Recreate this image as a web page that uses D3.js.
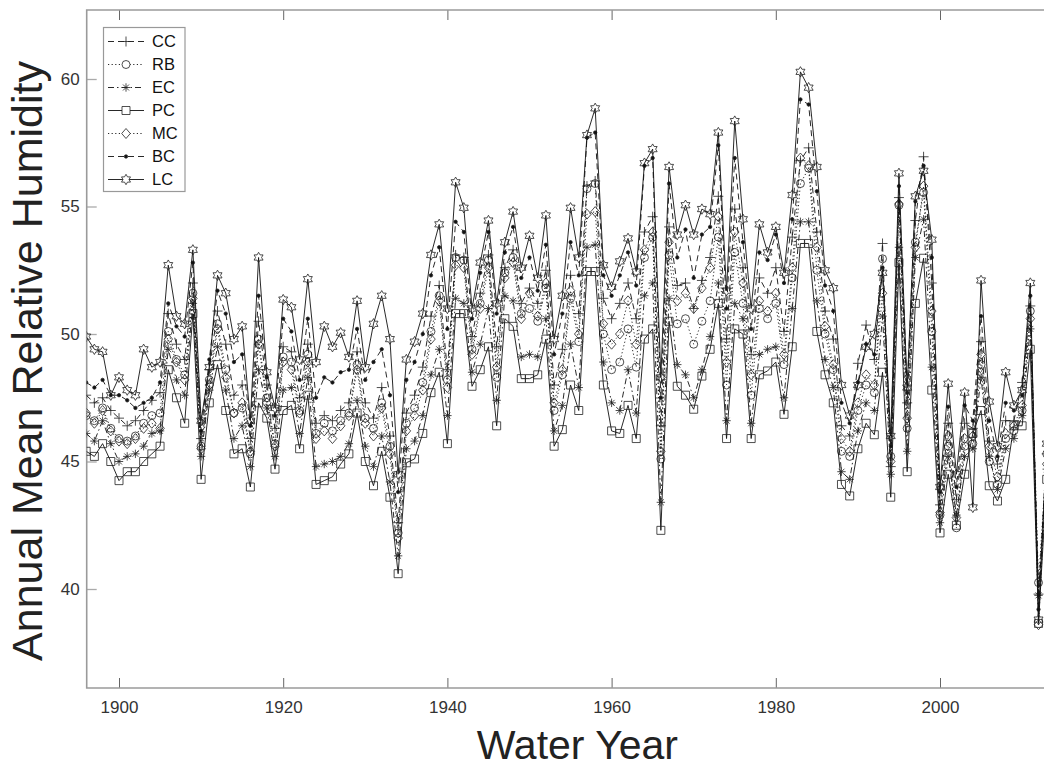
<!DOCTYPE html>
<html>
<head>
<meta charset="utf-8">
<script src="https://cdn.jsdelivr.net/npm/d3@7"></script>
<style>
  html, body { margin: 0; padding: 0; background: #fff; }
  svg { display: block; font-family: "Liberation Sans", Arial, Helvetica, sans-serif; }
</style>
</head>
<body>
<svg id="chart" width="1044" height="767"></svg>
<script>
// ---------------- DATA ----------------
const firstYear = 1896;
const lastYear = 2013;
const years = d3.range(firstYear, lastYear + 1);

const seriesNames = ["CC", "RB", "EC", "PC", "MC", "BC", "LC"];

const cc = [47.6,47.3,47.5,47.0,
  46.7,46.4,46.6,47.0,47.4,47.7,50.8,49.6,49.0,52.0,
  45.9,48.6,50.9,49.6,47.6,48.0,45.9,50.5,48.0,46.3,
  49.5,49.3,47.5,49.6,46.5,46.8,46.6,47.0,47.3,49.3,
  47.3,46.7,47.9,46.0,42.6,46.9,47.6,48.7,50.7,51.9,
  48.6,53.1,53.0,49.9,51.6,53.1,49.5,52.6,53.3,51.2,
  51.8,51.2,52.5,48.0,49.4,52.3,50.8,55.8,56.0,51.4,
  50.6,51.2,52.0,50.6,54.0,54.6,46.4,54.2,51.9,52.0,
  51.0,52.1,53.0,55.4,49.8,54.9,52.6,49.2,52.2,51.6,
  52.6,50.1,53.8,56.8,57.3,54.0,50.9,49.8,46.4,46.0,
  48.85,50.35,49.0,53.55,44.8,55.35,47.3,54.45,56.95,52.0,
  43.3,46.5,43.5,46.5,46.3,49.7,45.8,44.9,46.6,46.6,
  48.1,51.1,39.8,45.3];

const rb = [46.8,46.6,47.1,46.3,
  45.9,45.8,46.0,46.5,46.8,46.9,50.1,49.0,48.4,51.6,
  45.6,48.2,50.4,48.6,46.9,47.1,45.3,49.8,47.5,45.7,
  49.1,48.9,47.0,49.2,46.1,46.5,46.2,46.6,46.9,48.8,
  46.7,46.3,47.3,45.6,42.2,46.5,47.1,48.1,50.1,51.5,
  48.2,53.0,52.9,49.4,51.2,52.9,48.3,52.4,53.0,50.8,
  51.0,50.5,51.8,47.0,48.4,51.4,49.7,55.7,55.9,50.0,
  48.6,48.9,50.2,48.7,53.0,53.8,45.1,53.1,50.4,50.6,
  49.6,50.5,51.3,53.8,48.0,53.2,51.2,47.6,51.0,50.6,
  51.2,48.8,52.2,55.9,56.5,52.5,50.0,48.6,45.4,45.2,
  47.0,48.0,47.7,52.95,45.2,55.05,46.3,53.6,55.55,50.1,
  42.9,45.6,42.4,45.6,45.7,48.8,45.0,44.1,45.9,46.2,
  47.0,50.9,40.25,45.3];

const ec = [46.1,45.8,46.6,45.7,
  45.0,45.2,45.3,45.6,46.1,46.2,49.4,48.2,47.6,51.2,
  45.2,47.8,49.5,47.8,45.9,46.4,44.8,48.6,47.1,45.2,
  47.8,47.9,46.1,48.3,44.8,44.9,45.0,45.2,45.7,47.4,
  45.6,44.8,46.0,44.2,41.3,45.5,45.8,46.8,48.4,49.4,
  46.8,51.4,51.2,48.5,49.6,51.0,47.4,51.5,51.3,49.1,
  49.2,49.1,50.6,46.2,47.2,49.6,47.9,53.4,53.5,48.9,
  47.3,47.0,48.6,46.9,51.5,52.0,43.4,51.4,48.8,48.4,
  47.5,48.6,49.9,52.0,46.6,51.2,50.6,46.5,49.2,49.4,
  49.5,47.5,51.0,54.4,54.4,51.3,49.0,47.9,44.6,44.3,
  46.2,47.3,47.0,50.7,44.5,53.4,45.4,53.0,54.5,48.7,
  42.6,45.2,42.9,45.2,45.5,48.3,45.2,43.9,45.5,45.9,
  46.8,50.2,39.75,44.7];

const pc = [45.4,45.2,45.7,45.0,
  44.25,44.6,44.6,45.0,45.3,45.6,48.6,47.5,46.5,50.8,
  44.3,47.3,48.8,47.0,45.3,45.5,44.0,47.3,46.7,44.7,
  47.0,47.2,45.5,47.6,44.1,44.25,44.4,44.9,45.3,46.9,
  45.0,44.05,45.4,43.6,40.6,44.95,45.1,46.1,47.7,48.5,
  45.7,50.8,50.8,47.95,48.6,49.5,46.4,50.6,50.3,48.25,
  48.25,48.4,49.8,45.6,46.25,48.0,47.0,52.45,52.45,48.0,
  46.2,46.1,47.2,45.9,49.8,50.2,42.3,50.5,47.95,47.6,
  47.05,48.35,49.4,51.2,45.9,50.2,50.0,45.9,48.4,48.55,
  48.9,46.85,49.5,53.55,53.55,50.1,48.4,47.3,44.1,43.65,
  45.5,46.5,46.05,48.5,43.6,52.8,44.6,51.2,52.97,47.8,
  42.2,44.5,42.5,44.5,46.1,47.0,44.05,43.45,44.3,46.4,
  46.4,49.4,38.65,44.3];

const mc = [46.9,46.5,47.0,46.2,
  45.8,45.7,45.9,46.3,46.5,46.3,49.8,48.9,48.2,51.4,
  45.5,48.0,50.2,48.3,46.9,47.3,45.4,49.6,47.3,45.6,
  48.9,48.6,46.9,48.9,45.9,46.2,45.9,46.4,46.8,48.6,
  46.5,46.0,47.1,45.3,42.0,46.2,46.8,47.8,49.8,51.3,
  47.9,52.7,52.6,49.2,51.0,52.6,48.7,52.2,52.8,50.6,
  51.6,50.7,52.0,47.3,48.6,51.7,50.0,54.7,54.8,50.4,
  49.6,50.0,51.3,49.6,53.3,54.0,45.4,53.6,51.3,51.6,
  51.0,51.8,52.6,54.6,48.9,54.0,52.0,48.4,51.3,50.9,
  51.6,49.2,52.6,56.9,56.6,53.4,50.3,48.8,45.9,45.4,
  47.3,48.4,48.0,51.6,45.0,55.1,46.7,53.4,55.8,50.9,
  43.0,46.0,42.8,45.9,46.0,49.2,45.6,44.4,46.1,46.4,
  47.2,50.6,38.6,44.9];

const bc = [48.1,47.9,48.2,47.6,
  47.6,47.4,47.1,47.3,47.5,48.1,51.2,50.3,49.9,52.8,
  46.2,49.0,51.7,50.8,48.9,49.2,46.4,51.5,48.3,46.8,
  50.6,50.1,48.2,50.6,47.5,48.3,48.1,48.5,48.6,50.2,
  48.2,48.9,49.4,47.6,43.8,48.2,48.9,50.0,52.3,53.4,
  50.2,54.4,54.0,50.6,52.4,54.0,50.8,53.2,54.2,52.2,
  53.0,51.7,53.5,49.2,50.8,53.6,52.3,57.7,57.9,52.3,
  51.5,52.3,53.2,51.9,56.6,56.9,47.5,55.9,53.0,54.1,
  52.2,53.9,54.2,57.4,51.0,56.9,53.6,50.2,53.2,52.9,
  53.9,52.0,54.5,59.2,59.0,55.6,51.9,50.9,47.3,46.5,
  48.1,49.6,49.2,52.6,45.6,55.8,47.7,55.2,56.6,53.0,
  43.8,47.15,44.0,47.2,46.6,50.7,46.6,45.2,47.3,47.0,
  47.6,51.5,39.2,45.5];

const lc = [49.9,49.4,49.3,47.6,
  48.3,47.8,47.6,49.4,48.7,48.9,52.7,50.7,50.4,53.3,
  46.6,48.7,52.3,51.6,49.8,50.3,46.6,53.0,48.5,47.1,
  51.35,51.05,49.0,52.15,48.9,50.3,49.5,50.05,49.1,51.3,
  48.7,50.4,51.5,49.8,44.5,49.0,49.7,50.8,53.1,54.3,
  51.0,55.95,54.95,51.0,52.8,54.45,51.2,53.6,54.8,52.6,
  53.85,52.2,54.65,49.8,51.5,54.95,53.0,57.8,58.85,52.7,
  51.85,52.85,53.75,52.45,56.7,57.25,48.3,56.55,53.9,55.05,
  53.9,54.9,54.7,57.9,51.7,58.35,54.5,51.0,54.3,53.2,
  54.2,52.4,55.45,60.28,59.66,56.55,52.5,51.8,48.0,46.8,
  48.0,49.5,50.0,52.4,46.0,56.3,47.9,55.4,56.4,53.7,
  44.0,48.05,44.5,47.7,43.2,52.1,47.35,45.6,48.5,47.2,
  47.8,52.0,38.8,45.7];

const xTicks = [1900, 1920, 1940, 1960, 1980, 2000];
const yTicks = [40, 45, 50, 55, 60];
const xTitle = "Water Year";
const yTitle = "Annual Mean Relative Humidity";

// ---------------- STYLE ----------------
const styles = {
  CC: { dash: "6,4",         marker: "plus" },
  RB: { dash: "1.2,2.4",     marker: "circle" },
  EC: { dash: "6,3,1.5,3",   marker: "asterisk" },
  PC: { dash: null,          marker: "square" },
  MC: { dash: "1.2,2.4",     marker: "diamond" },
  BC: { dash: "6,4",         marker: "dot" },
  LC: { dash: null,          marker: "hexagram" }
};
const seriesData = { CC: cc, RB: rb, EC: ec, PC: pc, MC: mc, BC: bc, LC: lc };

function markerPath(type) {
  switch (type) {
    case "plus": { const r = 5; return `M${-r},0H${r}M0,${-r}V${r}`; }
    case "circle": { const r = 4; return `M${r},0A${r},${r} 0 1,1 ${-r},0A${r},${r} 0 1,1 ${r},0Z`; }
    case "asterisk": {
      const r = 4.2, d = r * 0.7071;
      return `M${-r},0H${r}M0,${-r}V${r}M${-d},${-d}L${d},${d}M${-d},${d}L${d},${-d}`;
    }
    case "square": { const s = 4; return `M${-s},${-s}H${s}V${s}H${-s}Z`; }
    case "diamond": { const r = 5, w = 4.3; return `M0,${-r}L${w},0L0,${r}L${-w},0Z`; }
    case "dot": { const r = 1.7; return `M${r},0A${r},${r} 0 1,1 ${-r},0A${r},${r} 0 1,1 ${r},0Z`; }
    case "hexagram": {
      const R = 5.2, ri = R / Math.sqrt(3);
      let p = [];
      for (let k = 0; k < 12; k++) {
        const a = -Math.PI / 2 + k * Math.PI / 6;
        const rr = (k % 2 === 0) ? R : ri;
        p.push([rr * Math.cos(a), rr * Math.sin(a)]);
      }
      return "M" + p.map(q => q[0].toFixed(2) + "," + q[1].toFixed(2)).join("L") + "Z";
    }
  }
}

// ---------------- CHART ----------------
const svg = d3.select("#chart");
const plotLeft = 86.7, plotTop = 10, plotBottom = 688;

const x = d3.scaleLinear().domain([1900, 2000]).range([119, 940]);
const y = d3.scaleLinear().domain([40, 60]).range([589, 79]);
const plotRight = x(lastYear) + 1;

svg.append("rect").attr("width", 1044).attr("height", 767).attr("fill", "#fff");

// axes
const axisColor = "#9a9a9a";
const gx = svg.append("g").attr("transform", `translate(0,${plotBottom})`)
  .call(d3.axisBottom(x).tickValues(xTicks).tickFormat(d3.format("d")).tickSize(-10).tickPadding(13));
const gxTop = svg.append("g").attr("transform", `translate(0,${plotTop})`)
  .call(d3.axisTop(x).tickValues(xTicks).tickFormat("").tickSize(-10));
const gy = svg.append("g").attr("transform", `translate(${plotLeft},0)`)
  .call(d3.axisLeft(y).tickValues(yTicks).tickSize(-10).tickPadding(7));

[gx, gxTop, gy].forEach(g => {
  g.select(".domain").remove();
  g.selectAll(".tick line").attr("stroke", "#666").attr("stroke-width", 1);
  g.selectAll(".tick text").attr("fill", "#333").style("font-size", "17px")
    .style("font-family", "'Liberation Sans', Arial, sans-serif");
});
gy.selectAll(".tick line").attr("stroke", "#aaa").attr("stroke-width", 1.3);

// frame
svg.append("path")
  .attr("d", `M${plotRight},${plotTop}H${plotLeft}V${plotBottom}H${plotRight}`)
  .attr("fill", "none").attr("stroke", axisColor).attr("stroke-width", 1.6);

// clip
svg.append("clipPath").attr("id", "clip").append("rect")
  .attr("x", plotLeft).attr("y", plotTop).attr("width", plotRight - plotLeft + 10).attr("height", plotBottom - plotTop);

const plot = svg.append("g").attr("clip-path", "url(#clip)");
const line = d3.line().x((d, i) => x(years[i])).y(d => y(d));

seriesNames.forEach(name => {
  const st = styles[name];
  const vals = seriesData[name];
  plot.append("path").datum(vals)
    .attr("d", line)
    .attr("fill", "none").attr("stroke", "#111").attr("stroke-width", 0.9)
    .attr("stroke-dasharray", st.dash);
  const isDot = st.marker === "dot";
  plot.append("g").selectAll("path").data(vals).join("path")
    .attr("transform", (d, i) => `translate(${x(years[i])},${y(d)})`)
    .attr("d", markerPath(st.marker))
    .attr("fill", isDot ? "#111" : "none")
    .attr("stroke", "#222").attr("stroke-width", 0.8);
});

// legend
const lg = svg.append("g");
const lgLeft = 103.5, lgTop = 27.5, lgRight = 185, rowH = 23, firstRow = 41.5;
lg.append("rect").attr("x", lgLeft).attr("y", lgTop).attr("width", lgRight - lgLeft)
  .attr("height", firstRow + rowH * 6 + 12 - lgTop)
  .attr("fill", "#fff").attr("stroke", "#999").attr("stroke-width", 1.2);
seriesNames.forEach((name, i) => {
  const st = styles[name];
  const yy = firstRow + i * rowH;
  lg.append("line").attr("x1", 108).attr("x2", 144).attr("y1", yy).attr("y2", yy)
    .attr("stroke", "#111").attr("stroke-width", 0.9).attr("stroke-dasharray", st.dash);
  lg.append("path").attr("transform", `translate(126,${yy})`).attr("d", markerPath(st.marker))
    .attr("fill", st.marker === "dot" ? "#111" : "#fff").attr("stroke", "#222").attr("stroke-width", 0.8);
  lg.append("text").attr("x", 152).attr("y", yy).attr("dy", "0.36em")
    .attr("fill", "#111").style("font-size", "16.5px").text(name);
});

// titles
svg.append("text").attr("x", (plotLeft + 1044) / 2 + 12).attr("y", 759)
  .attr("text-anchor", "middle").attr("fill", "#222").style("font-size", "41px").text(xTitle);
svg.append("text").attr("transform", `translate(42,${361}) rotate(-90)`)
  .attr("text-anchor", "middle").attr("fill", "#222").style("font-size", "43px").text(yTitle);
</script>
</body>
</html>
